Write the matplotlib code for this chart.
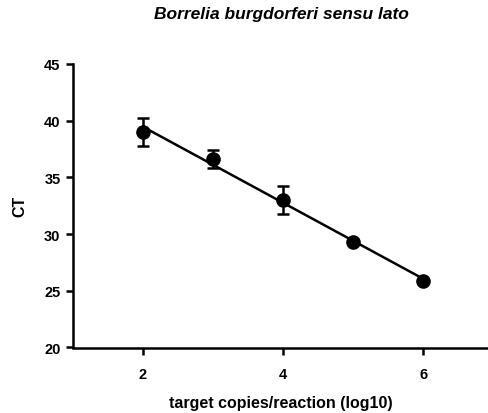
import matplotlib.pyplot as plt
import numpy as np

# data
log_copies = [2, 3, 4, 5, 6]
ct_mean = [39.0, 36.6, 33.0, 29.3, 25.9]
ct_err = [1.2, 0.8, 1.2, 0.0, 0.0]

plt.rcParams['font.family'] = ['Liberation Sans', 'DejaVu Sans']
plt.rcParams['font.weight'] = 'bold'

fig = plt.figure(figsize=(4.89, 4.14), dpi=100)
ax = fig.add_axes([73 / 489, 1 - 348.5 / 414, 1 - 73 / 489, (348.5 - 65) / 414])

# linear fit
slope, intercept = np.polyfit(log_copies, ct_mean, 1)
xfit = np.array([min(log_copies), max(log_copies)])
ax.plot(xfit, slope * xfit + intercept, color='black', lw=1.8, zorder=2)

ax.errorbar(log_copies, ct_mean, yerr=ct_err, fmt='o', color='black',
            markersize=9.5, elinewidth=1.8, capsize=4.5, capthick=1.8, zorder=3)

ax.set_xlim(1, 6.94)
ax.set_ylim(20, 45)
ax.set_xticks([2, 4, 6])
ax.set_yticks([20, 25, 30, 35, 40, 45])

for side in ['top', 'right']:
    ax.spines[side].set_visible(False)
for side in ['left', 'bottom']:
    ax.spines[side].set_linewidth(1.8)
ax.tick_params(width=1.8, length=5, labelsize=10.5)
ax.tick_params(axis='x', pad=9)
ax.tick_params(axis='y', pad=4)
for lab in ax.get_xticklabels() + ax.get_yticklabels():
    lab.set_fontweight('bold')

ax.set_xlabel('target copies/reaction (log10)', fontsize=11.5, fontweight='bold', labelpad=10)
ax.set_ylabel('CT', fontsize=11.5, fontweight='bold', labelpad=12)
ax.set_title('Borrelia burgdorferi sensu lato', fontsize=12.5, fontweight='bold',
             fontstyle='italic', pad=33)

fig.savefig('out.png', dpi=100)
